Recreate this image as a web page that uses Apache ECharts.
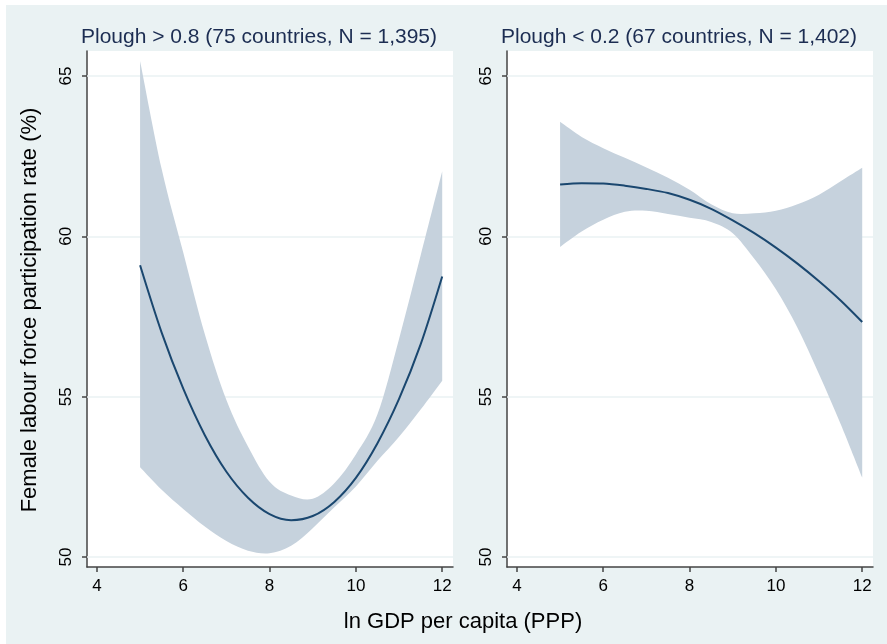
<!DOCTYPE html>
<html>
<head>
<meta charset="utf-8">
<script src="https://cdn.jsdelivr.net/npm/echarts@6/dist/echarts.min.js"></script>
<style>
  html, body { margin: 0; padding: 0; background: #fff; }
  #chart-panel { position: absolute; left: 6px; top: 5px; width: 881px; height: 639px; }
</style>
</head>
<body>
<div id="chart-panel"></div>
<script>
// ln GDP per capita grid the fits are read at
const gdp = [5, 5.5, 6, 6.5, 7, 7.5, 8, 8.5, 9, 9.5, 10, 10.5, 11, 11.5, 12]

// Plough > 0.8
const highFit = [59.1, 57.0, 55.25, 53.8, 52.66, 51.85, 51.34, 51.15, 51.28, 51.72, 52.47, 53.55, 54.93, 56.63, 58.75]
const highUpper = [65.47, 62.1, 59.5, 56.95, 54.9, 53.45, 52.35, 51.92, 51.82, 52.3, 53.2, 54.45, 56.8, 59.4, 62.03]
const highLower = [52.8, 52.1, 51.5, 50.95, 50.5, 50.2, 50.12, 50.35, 50.9, 51.55, 52.2, 53.0, 53.75, 54.6, 55.5]

// Plough < 0.2
const lowFit = [61.62, 61.66, 61.65, 61.58, 61.48, 61.35, 61.14, 60.86, 60.5, 60.1, 59.65, 59.15, 58.6, 58.0, 57.33]
const lowUpper = [63.57, 63.1, 62.75, 62.45, 62.15, 61.83, 61.45, 61.0, 60.72, 60.72, 60.8, 61.0, 61.3, 61.72, 62.14]
const lowLower = [59.67, 60.15, 60.52, 60.77, 60.8, 60.7, 60.58, 60.45, 60.1, 59.3, 58.35, 57.15, 55.7, 54.15, 52.48]

const xTicks = [4, 6, 8, 10, 12]
const yTicks = [50, 55, 60, 65]

const titles = ["Plough > 0.8 (75 countries, N = 1,395)", "Plough < 0.2 (67 countries, N = 1,402)"]
const yTitle = "Female labour force participation rate (%)"
const xTitle = "ln GDP per capita (PPP)"

const axisColor = "#444"
const bandColor = "#c6d2dd"
const lineColor = "#1a476f"
const gridColor = "#eaf2f3"
const font = "Liberation Sans"

const chart = echarts.init(document.getElementById("chart-panel"))

const pairs = (ys) => gdp.map((x, i) => [x, ys[i]])

// catmull-rom -> cubic bezier segments through pixel points (no move-to)
const curveThrough = (pts) => {
  let d = ""
  for (let i = 0; i < pts.length - 1; i++) {
    const p0 = pts[Math.max(i - 1, 0)]
    const p1 = pts[i]
    const p2 = pts[i + 1]
    const p3 = pts[Math.min(i + 2, pts.length - 1)]
    const c1 = [p1[0] + (p2[0] - p0[0]) / 6, p1[1] + (p2[1] - p0[1]) / 6]
    const c2 = [p2[0] - (p3[0] - p1[0]) / 6, p2[1] - (p3[1] - p1[1]) / 6]
    d += ` C ${c1[0]} ${c1[1]} ${c2[0]} ${c2[1]} ${p2[0]} ${p2[1]}`
  }
  return d
}

const makeX = (idx) => ({
  type: "value",
  gridIndex: idx,
  min: 3.77,
  max: 12.25,
  axisLine: { show: true, onZero: false, lineStyle: { color: axisColor, width: 1.5 } },
  axisTick: { show: true, customValues: xTicks, length: 5, lineStyle: { color: axisColor, width: 1.5 } },
  axisLabel: { customValues: xTicks, color: "#000", fontSize: 17, margin: 11, fontFamily: font },
  splitLine: { show: false }
})
const makeY = (idx) => ({
  type: "value",
  gridIndex: idx,
  min: 49.69,
  max: 65.78,
  axisLine: { show: true, onZero: false, lineStyle: { color: axisColor, width: 1.5 } },
  axisTick: { show: true, customValues: yTicks, length: 5, lineStyle: { color: axisColor, width: 1.5 } },
  axisLabel: { customValues: yTicks, color: "#000", fontSize: 17, margin: 12, rotate: 90, fontFamily: font },
  splitLine: { show: false }
})

// confidence band: upper edge left to right, straight down, lower edge back
const bandSeries = (idx, up, lo) => ({
  type: "custom",
  xAxisIndex: idx,
  yAxisIndex: idx,
  data: gdp.map((x, i) => [x, lo[i], up[i]]),
  encode: { x: 0, y: [1, 2] },
  z: 2,
  silent: true,
  renderItem: (params, api) => {
    if (params.dataIndex !== 0) return
    const top = gdp.map((x, i) => api.coord([x, up[i]]))
    const bottom = gdp.map((x, i) => api.coord([x, lo[i]])).reverse()
    const d = `M ${top[0][0]} ${top[0][1]}` + curveThrough(top) +
      ` L ${bottom[0][0]} ${bottom[0][1]}` + curveThrough(bottom) + " Z"
    return {
      type: "path",
      shape: { pathData: d, layout: "cover" },
      style: { fill: bandColor, stroke: null }
    }
  }
})

const panelSeries = (idx, fit, up, lo) => [
  {
    // horizontal grid lines under the band
    type: "line",
    xAxisIndex: idx,
    yAxisIndex: idx,
    data: [],
    z: 1,
    markLine: {
      silent: true,
      z: 1,
      symbol: "none",
      label: { show: false },
      lineStyle: { color: gridColor, width: 1.5, type: "solid" },
      data: yTicks.map((v) => ({ yAxis: v }))
    }
  },
  bandSeries(idx, up, lo),
  {
    type: "line",
    xAxisIndex: idx,
    yAxisIndex: idx,
    data: pairs(fit),
    symbol: "none",
    smooth: 0.3,
    lineStyle: { color: lineColor, width: 2 },
    z: 3
  }
]

const options = {
  animation: false,
  backgroundColor: "#eaf2f3",
  textStyle: { fontFamily: font },
  title: [
    {
      text: titles[0],
      left: 248,
      top: 17,
      textAlign: "center",
      textStyle: { color: "#1c2d52", fontSize: 21, fontWeight: "normal", fontFamily: font }
    },
    {
      text: titles[1],
      left: 668,
      top: 17,
      textAlign: "center",
      textStyle: { color: "#1c2d52", fontSize: 21, fontWeight: "normal", fontFamily: font }
    }
  ],
  grid: [
    { left: 81, top: 46, width: 366, height: 516, show: true, backgroundColor: "#fff", borderWidth: 0 },
    { left: 501, top: 46, width: 366, height: 516, show: true, backgroundColor: "#fff", borderWidth: 0 }
  ],
  xAxis: [makeX(0), makeX(1)],
  yAxis: [makeY(0), makeY(1)],
  graphic: [
    {
      type: "text",
      x: 24,
      y: 305,
      rotation: Math.PI / 2,
      style: {
        text: yTitle,
        fill: "#000",
        font: "22px 'Liberation Sans'",
        textAlign: "center",
        textVerticalAlign: "middle"
      }
    },
    {
      type: "text",
      x: 457,
      y: 617,
      style: {
        text: xTitle,
        fill: "#000",
        font: "22px 'Liberation Sans'",
        textAlign: "center",
        textVerticalAlign: "middle"
      }
    }
  ],
  series: [
    ...panelSeries(0, highFit, highUpper, highLower),
    ...panelSeries(1, lowFit, lowUpper, lowLower)
  ]
}
chart.setOption(options)
</script>
</body>
</html>
